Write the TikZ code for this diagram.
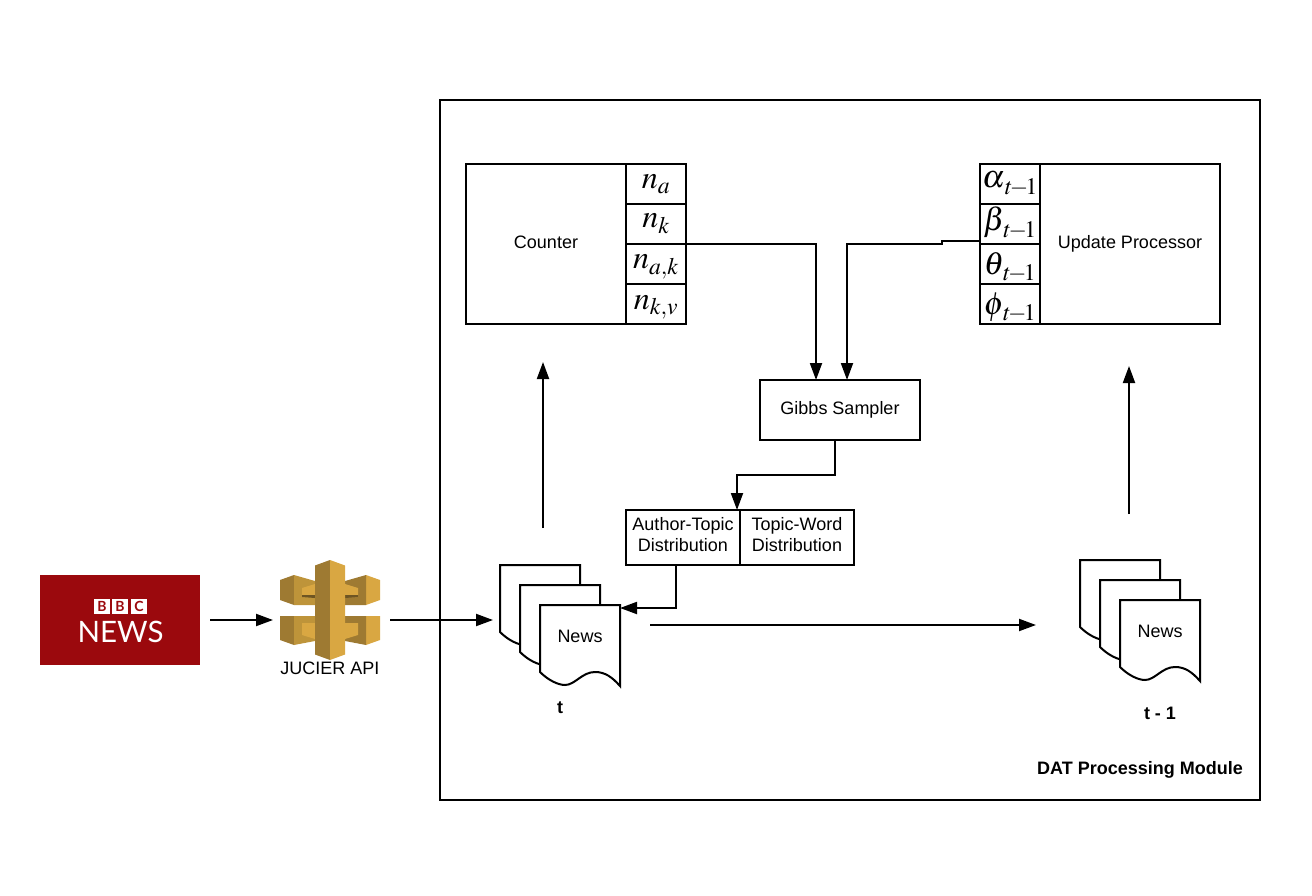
\documentclass[tikz,border=0pt]{standalone}
\usepackage{mathptmx}
\usepackage{fontspec}
\setmainfont{Liberation Sans}
\newfontfamily\bbcfont{Lato}
\usepackage{xcolor}
\usetikzlibrary{arrows.meta,positioning}
\definecolor{bbcred}{RGB}{155,9,13}
\definecolor{apidark}{RGB}{158,122,50}
\definecolor{apimid}{RGB}{190,148,58}
\definecolor{apigold}{RGB}{217,167,66}
\definecolor{apishade}{RGB}{110,85,35}
% cell text: baseline drop, then the formula
\newcommand{\cellm}[2]{\raisebox{-#1pt}{$#2$}}
\newcommand{\prevt}{\,\raisebox{-2pt}{$\scriptstyle t\!-\!1$}}
\tikzset{
  conn/.style={-{Triangle[length=17pt,width=12pt]},line width=2pt},
  boxln/.style={draw,line width=2pt,inner sep=0pt,outer sep=0pt},
  txt/.style={font=\fontsize{18}{21}\selectfont,align=center},
  txtb/.style={font=\fontsize{18}{21}\selectfont\bfseries},
  cellbox/.style={boxln,minimum width=60pt,minimum height=40pt,text height=16pt,text depth=16pt,
    font=\fontsize{32}{33}\selectfont},
  ghostbox/.style={inner sep=0pt,outer sep=0pt,minimum width=80pt,minimum height=80pt},
  bbcsq/.style={fill=white,text=bbcred,minimum width=16pt,minimum height=15pt,inner sep=0pt,
    font=\fontsize{14}{14}\bbcfont\bfseries},
  newsdoc/.pic={
    \draw[line width=2pt,fill=white,line join=miter] (0,0)--(80,0)--(80,81)
      .. controls (72,72) and (65,67) .. (55,67)
      .. controls (42,67) and (35,80) .. (25,80)
      .. controls (18,80) and (8,75) .. (0,67) -- cycle;
  },
}
\begin{document}
\begin{tikzpicture}[x=1pt,y=-1pt]
  \useasboundingbox (0,0) rectangle (1312,896);
  % module frame
  \node[boxln,minimum width=820pt,minimum height=700pt] (module) at (850,450) {};
  \node[txtb] (moduleLab) at (1140,770) {DAT Processing Module};

  % BBC logo
  \node[fill=bbcred,minimum width=160pt,minimum height=90pt,inner sep=0pt] (bbc) at (120,620) {};
  \node[bbcsq] (bbcA) at (102,606.5) {B};
  \node[bbcsq] (bbcB) at (120,606.5) {B};
  \node[bbcsq] (bbcC) at (139,606.5) {C};
  \node[text=white,inner sep=0pt,font=\fontsize{29.5}{30}\bbcfont] (bbcNews) at (120.5,632) {NEWS};

  % API icon
  \foreach \sgn/\colA/\colB in {-1/apidark/apimid,1/apigold/apidark}{%
    \fill[\colA] (330+\sgn*50,580)--(330+\sgn*36,575)--(330+\sgn*36,605)--(330+\sgn*50,600)--cycle;
    \fill[\colB] (330+\sgn*36,575)--(330+\sgn*15,581)--(330+\sgn*15,605)--(330+\sgn*36,605)--cycle;
    \fill[apigold] (330+\sgn*28,588)--(330+\sgn*15,584)--(330+\sgn*15,597)--(330+\sgn*28,597)--cycle;
    \fill[apishade] (330+\sgn*28,595)--(330+\sgn*15,595)--(330+\sgn*15,598)--(330+\sgn*28,597)--cycle;
    \fill[\colA] (330+\sgn*50,616)--(330+\sgn*36,616)--(330+\sgn*36,645)--(330+\sgn*50,640)--cycle;
    \fill[\colB] (330+\sgn*36,616)--(330+\sgn*15,616)--(330+\sgn*15,641)--(330+\sgn*36,645)--cycle;
    \fill[apigold] (330+\sgn*28,623)--(330+\sgn*15,623)--(330+\sgn*15,639)--(330+\sgn*28,635)--cycle;
  }
  \fill[apidark] (330,560)--(315,565.5)--(315,654.5)--(330,660)--cycle;
  \fill[apigold] (330,560)--(345,565.5)--(345,654.5)--(330,660)--cycle;
  \node[inner sep=0pt,minimum width=100pt,minimum height=100pt] (api) at (330,610) {};
  \node[txt] (apiLab) at (330,668) {JUCIER API};

  % counter block
  \node[boxln,minimum width=160pt,minimum height=160pt,txt,text depth=4pt] (counter) at (546,244) {Counter};
  \node[cellbox] (na) at (656,184) {\cellm{5}{n_a}};
  \node[cellbox] (nk) at (656,224) {\cellm{4}{n_k}};
  \node[cellbox] (nak) at (656,264) {\cellm{5}{n_{a,k}}};
  \node[cellbox] (nkv) at (656,304) {\cellm{5}{n_{k,v}}};

  % update block
  \node[boxln,minimum width=180pt,minimum height=160pt,txt] (update) at (1130,244) {Update Processor};
  \node[cellbox] (alpha) at (1010,184) {\cellm{4}{\alpha_{\prevt}}};
  \node[cellbox] (beta) at (1010,224) {\cellm{7}{\beta_{\prevt}}};
  \node[cellbox] (theta) at (1010,264) {\cellm{10}{\theta_{\prevt}}};
  \node[cellbox] (phi) at (1010,304) {\cellm{10}{\phi_{\prevt}}};

  % sampler and distributions
  \node[boxln,minimum width=160pt,minimum height=60pt,txt] (gibbs) at (840,410) {Gibbs Sampler};
  \node[boxln,minimum width=114pt,minimum height=55pt,txt,text depth=6pt] (atd) at (683,537.5) {Author-Topic\\Distribution};
  \node[boxln,minimum width=114pt,minimum height=55pt,txt,text depth=6pt] (twd) at (797,537.5) {Topic-Word\\Distribution};

  % news stacks
  \pic at (500,565) {newsdoc};
  \pic at (520,585) {newsdoc};
  \pic at (540,605) {newsdoc};
  \node[ghostbox] (newsT) at (580,645) {};
  \node[txt] (newsTLab) at (580,636) {News};
  \node[txtb] (tLab) at (560,708) {t};
  \pic at (1080,560) {newsdoc};
  \pic at (1100,580) {newsdoc};
  \pic at (1120,600) {newsdoc};
  \node[ghostbox] (newsP) at (1160,640) {};
  \node[txt] (newsPLab) at (1160,631) {News};
  \node[txtb] (pLab) at (1160,713) {t - 1};

  % free ends
  \coordinate (bbcOut) at (210,620);
  \coordinate (apiIn) at (273,620);
  \coordinate (apiOut) at (390,620);
  \coordinate (newsIn) at (493,620);
  \coordinate (newsUp) at (543,528);
  \coordinate (counterIn) at (543,362);
  \coordinate (newsOut) at (650,625);
  \coordinate (prevIn) at (1036,625);
  \coordinate (prevUp) at (1129,514);
  \coordinate (updateIn) at (1129,366);
  \coordinate (betaOut) at (980,241);

  % connectors
  \draw[conn] (bbcOut)--(apiIn);
  \draw[conn] (apiOut)--(newsIn);
  \draw[conn] (newsUp)--(counterIn);
  \draw[conn] (newsOut)--(prevIn);
  \draw[conn] (prevUp)--(updateIn);
  \draw[conn] (nk.south east) -| ([xshift=56pt]gibbs.north west);
  \draw[conn] (betaOut) -- ++(-38,0) -- ++(0,3) -| ([xshift=87pt]gibbs.north west);
  \draw[conn] ([xshift=75pt]gibbs.south west) -- ++(0,35) -| ([xshift=-3pt]atd.north east);
  \draw[conn] ([xshift=50pt]atd.south west) |- ([yshift=-3pt]newsT.north east);
\end{tikzpicture}
\end{document}
